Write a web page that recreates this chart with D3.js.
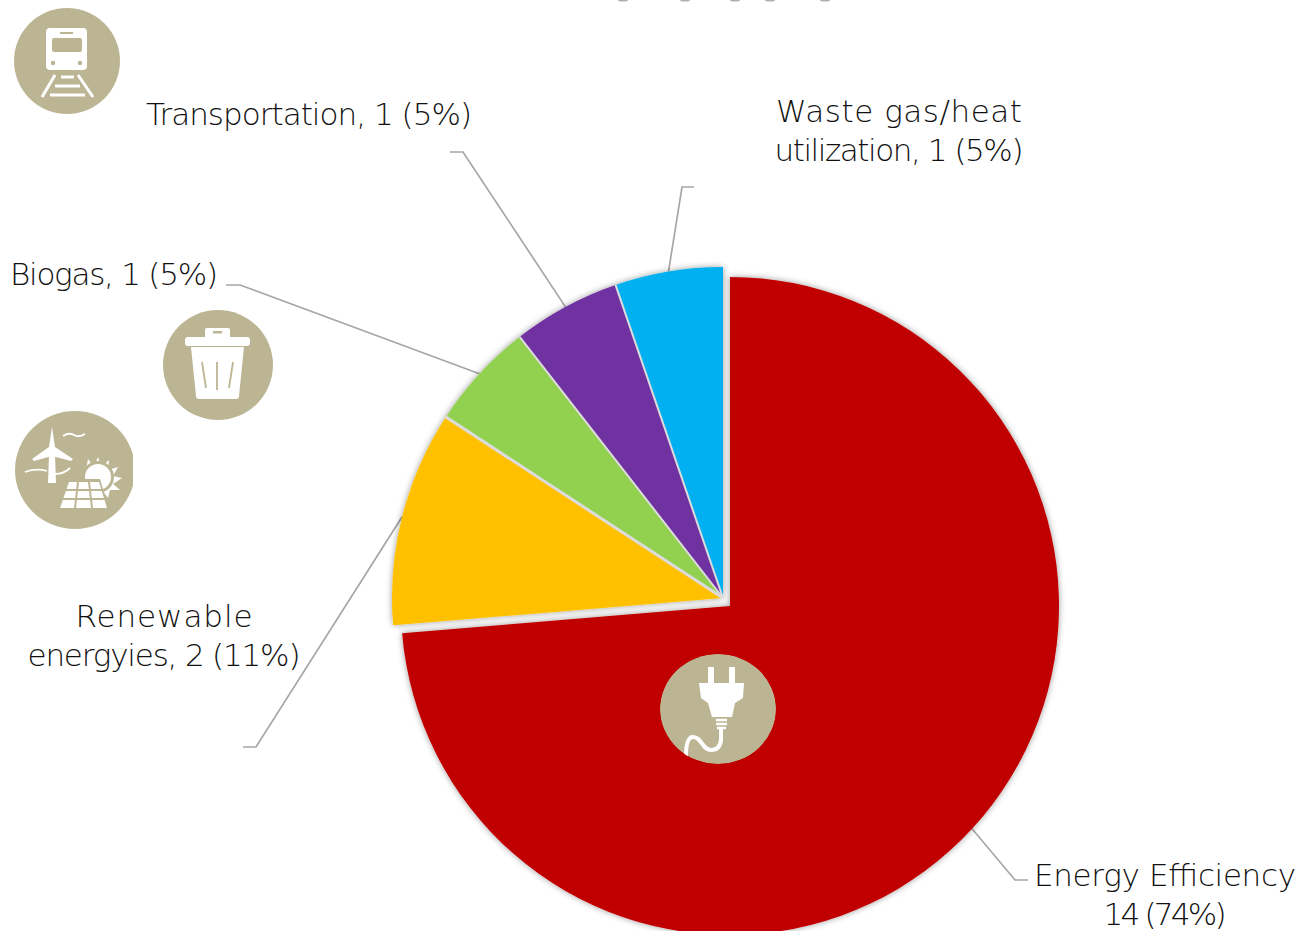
<!DOCTYPE html>
<html>
<head>
<meta charset="utf-8">
<script src="https://cdn.jsdelivr.net/npm/d3@7"></script>
<style>
    html, body { margin: 0; padding: 0; background: #fff; overflow: hidden; }
    text { font-family: "DejaVu Sans", sans-serif; font-size: 31px; fill: #111; font-weight: 300; }
</style>
</head>
<body>
<div id="chart"></div>
<script>
const categories = ["Energy Efficiency", "Renewable energyies", "Biogas", "Transportation", "Waste gas/heat utilization"];
const values = [14, 2, 1, 1, 1];
const percents = [74, 11, 5, 5, 5];
const colors = ["#c00000", "#ffc000", "#92d050", "#7030a0", "#00b0f0"];

const width = 1301, height = 931;
const iconColor = "#bcb594";
const lineColor = "#a6a6a6";

// the big slice stays put, the others are pulled out up and left
const center = i => i === 0 ? [730, 606] : [723, 598];
const radius = i => i === 0 ? 329 : 331;

// where each leader line bends and ends
const leaders = [
    [[1015, 880], [1028, 880]],
    [[256, 747], [243, 747]],
    [[240, 285], [226, 285]],
    [[463, 152], [450, 152]],
    [[682, 187], [694, 187]]
];

// len = width of the line in the reference, the font here runs a bit wider
const labelLines = [
    { lines: [[categories[0], 262], [`${values[0]} (${percents[0]}%)`, 123]], x: 1165, y: 886 },
    { lines: [["Renewable", 177], [`energyies, ${values[1]} (${percents[1]}%)`, 273]], x: 164, y: 627 },
    { lines: [[`${categories[2]}, ${values[2]} (${percents[2]}%)`, 208]], x: 114, y: 285 },
    { lines: [[`${categories[3]}, ${values[3]} (${percents[3]}%)`, 326]], x: 309, y: 125 },
    { lines: [["Waste gas/heat", 246], [`utilization, ${values[4]} (${percents[4]}%)`, 249]], x: 899, y: 122 }
];

const svg = d3.select("#chart").append("svg")
    .attr("width", width)
    .attr("height", height);

const defs = svg.append("defs");
defs.append("filter")
    .attr("id", "shadow")
    .attr("x", "-10%").attr("y", "-10%").attr("width", "120%").attr("height", "120%")
    .append("feDropShadow")
    .attr("dx", 0).attr("dy", 0)
    .attr("stdDeviation", 3)
    .attr("flood-color", "#000")
    .attr("flood-opacity", 0.4);

const pie = d3.pie().sort(null).startAngle(0).endAngle(2 * Math.PI);
const slices = pie(values);

// leader lines go under the pie
const line = d3.line();
svg.selectAll(".leader")
    .data(slices)
    .join("path")
    .attr("class", "leader")
    .attr("fill", "none")
    .attr("stroke", lineColor)
    .attr("stroke-width", 1.7)
    .attr("d", (d, i) => {
        const mid = (d.startAngle + d.endAngle) / 2;
        const c = center(i);
        const r = radius(i);
        const start = [c[0] + r * Math.sin(mid), c[1] - r * Math.cos(mid)];
        return line([start, ...leaders[i]]);
    });

const pieGroup = svg.append("g").attr("filter", "url(#shadow)");
pieGroup.selectAll(".slice")
    .data(slices)
    .join("path")
    .attr("class", "slice")
    .attr("transform", (d, i) => `translate(${center(i)})`)
    .attr("d", (d, i) => d3.arc().innerRadius(0).outerRadius(radius(i))(d))
    .attr("fill", (d, i) => colors[i]);

// thin gaps between the pulled out slices
svg.selectAll(".sep")
    .data(slices.slice(2))
    .join("line")
    .attr("class", "sep")
    .attr("x1", center(1)[0])
    .attr("y1", center(1)[1])
    .attr("x2", d => center(1)[0] + radius(1) * Math.sin(d.startAngle))
    .attr("y2", d => center(1)[1] - radius(1) * Math.cos(d.startAngle))
    .attr("stroke", "#dcdcdc")
    .attr("stroke-width", (d, i) => i === 0 ? 3 : 2);

// text labels
labelLines.forEach(l => {
    const t = svg.append("text")
        .attr("class", "label")
        .attr("text-anchor", "middle");
    l.lines.forEach((s, k) => {
        t.append("tspan")
            .attr("x", l.x)
            .attr("y", l.y + k * 39)
            .attr("textLength", s[1])
            .attr("lengthAdjust", "spacing")
            .text(s[0]);
    });
});

// icons
function badge(cx, cy, rx, ry) {
    const g = svg.append("g");
    g.append("ellipse").attr("cx", cx).attr("cy", cy).attr("rx", rx).attr("ry", ry).attr("fill", iconColor);
    return g;
}

function drawTrain() {
    const g = badge(67, 61, 53, 53);
    g.append("path").attr("d", "M50 28H83Q87 28 87 32V66Q87 70 83 70H50Q46 70 46 66V32Q46 28 50 28Z").attr("fill", "#fff");
    g.append("rect").attr("x", 52).attr("y", 38).attr("width", 30).attr("height", 14).attr("rx", 2).attr("fill", iconColor);
    g.append("rect").attr("x", 60).attr("y", 32).attr("width", 13).attr("height", 2).attr("fill", iconColor);
    g.append("circle").attr("cx", 53).attr("cy", 63).attr("r", 2.2).attr("fill", iconColor);
    g.append("circle").attr("cx", 80).attr("cy", 63).attr("r", 2.2).attr("fill", iconColor);
    g.append("path").attr("d", "M55 75L42 97M78 75L93 97M61 77H74M55 86H80M50 95H85")
        .attr("fill", "none").attr("stroke", "#fff").attr("stroke-width", 3);
}

function drawTrash() {
    const g = badge(218, 365, 55, 55);
    g.append("path").attr("d", "M205 338V330Q205 328 207 328H228Q230 328 230 330V338Z").attr("fill", "#fff");
    g.append("rect").attr("x", 213).attr("y", 331).attr("width", 9).attr("height", 2.5).attr("fill", iconColor);
    g.append("rect").attr("x", 185).attr("y", 337).attr("width", 65).attr("height", 9).attr("rx", 3).attr("fill", "#fff");
    g.append("path").attr("d", "M191 347H244L239 396Q239 399 236 399H199Q196 399 196 396Z").attr("fill", "#fff");
    g.append("path").attr("d", "M202 362L206 388M217 362V390M233 362L229 388")
        .attr("fill", "none").attr("stroke", iconColor).attr("stroke-width", 1.8);
}

function drawWindSolar() {
    defs.append("clipPath").attr("id", "cutRight")
        .append("rect").attr("x", 0).attr("y", 400).attr("width", 133).attr("height", 129);
    const g = badge(75, 470, 60, 59).attr("clip-path", "url(#cutRight)");
    // turbine
    g.append("path").attr("d", "M52 427L55 447L73 459L71 461L52 456L34 461L32 459L49 447Z").attr("fill", "#fff");
    g.append("path").attr("d", "M49 455H55L56 483H48Z").attr("fill", "#fff");
    g.append("path").attr("d", "M63 436Q69 432 74 435T85 434M25 472Q36 468 47 471M55 474Q64 474 70 468")
        .attr("fill", "none").attr("stroke", "#fff").attr("stroke-width", 1.8);
    // sun
    const rays = "M80 462L86 470L88 459L94 467L98 457L101 467L109 460L108 470L118 467L113 476L122 478L113 484L120 490L110 490L108 498Z";
    g.append("path").attr("d", rays).attr("fill", "#fff");
    g.append("circle").attr("cx", 98).attr("cy", 477).attr("r", 16).attr("fill", iconColor);
    g.append("circle").attr("cx", 98).attr("cy", 477).attr("r", 13).attr("fill", "#fff");
    // panel
    g.append("path").attr("d", "M67 479H100L109 510H58Z").attr("fill", iconColor);
    g.append("path").attr("d", "M69 482H99L107 508H60Z").attr("fill", "#fff");
    g.append("path").attr("d", "M65 490H102M62 499H105M78 482L75 508M89 482L92 508")
        .attr("fill", "none").attr("stroke", iconColor).attr("stroke-width", 2);
}

function drawPlug() {
    defs.append("clipPath").attr("id", "plugClip")
        .append("ellipse").attr("cx", 718).attr("cy", 709).attr("rx", 58).attr("ry", 55);
    const g = badge(718, 709, 58, 55).attr("clip-path", "url(#plugClip)");
    g.append("path").attr("d", "M708 667H714V683H708ZM729 667H735V683H729Z").attr("fill", "#fff");
    g.append("path").attr("d", "M699 683H744L743 698L735 703L732 717H712L708 703L701 698Z").attr("fill", "#fff");
    g.append("path").attr("d", "M716 720H727M716 724H727M717 728H726")
        .attr("fill", "none").attr("stroke", "#fff").attr("stroke-width", 2.6);
    g.append("path").attr("d", "M721 728V740Q720 750 711 750C702 750 702 737 693 737Q686 737 686 756")
        .attr("fill", "none").attr("stroke", "#fff").attr("stroke-width", 4);
}

drawTrain();
drawTrash();
drawWindSolar();
drawPlug();

// bottoms of the title letters, the rest is cut off by the top of the picture
const titleBits = [623, 685, 735, 770, 825];
svg.selectAll(".titleBit")
    .data(titleBits)
    .join("ellipse")
    .attr("class", "titleBit")
    .attr("cx", d => d).attr("cy", 0)
    .attr("rx", 5).attr("ry", 1.5)
    .attr("fill", "#b0b0b0");
</script>
</body>
</html>
